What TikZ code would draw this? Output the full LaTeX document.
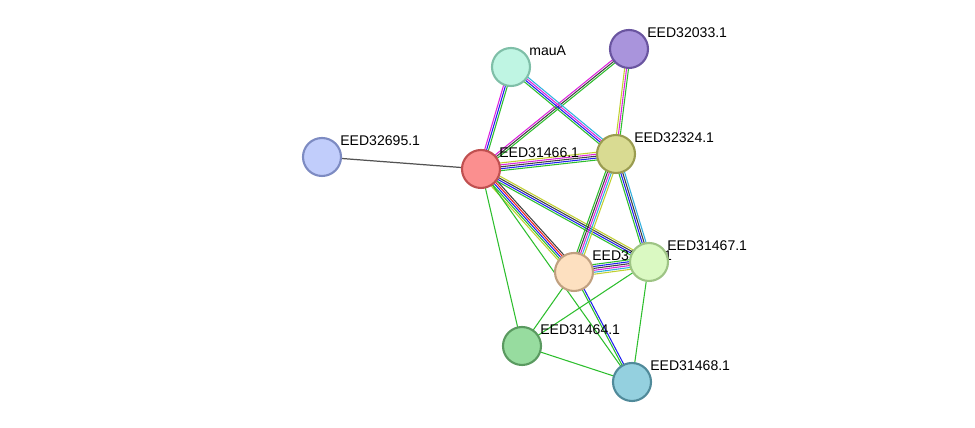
\documentclass[tikz,border=0pt]{standalone}
\usepackage{fontspec}
\setmainfont{Liberation Sans}
\usetikzlibrary{calc}

% STRING-like colours
\definecolor{cnb}{HTML}{2DBE2D}
\definecolor{cfu}{HTML}{F02020}
\definecolor{cco}{HTML}{2020F0}
\definecolor{cex}{HTML}{404040}
\definecolor{cxp}{HTML}{DD22DD}
\definecolor{cdb}{HTML}{30B0E0}
\definecolor{ctm}{HTML}{C0D030}
% node fills / borders
\definecolor{f95}{HTML}{C1CDFB}\definecolor{d95}{HTML}{7D8BC2}
\definecolor{fA}{HTML}{BFF5E3}\definecolor{dA}{HTML}{7FBFA8}
\definecolor{f33}{HTML}{A994DC}\definecolor{d33}{HTML}{6A55A0}
\definecolor{f66}{HTML}{FB8F8F}\definecolor{d66}{HTML}{C05050}
\definecolor{f24}{HTML}{D9DB92}\definecolor{d24}{HTML}{9A9C50}
\definecolor{f65}{HTML}{FDE0C0}\definecolor{d65}{HTML}{C0A080}
\definecolor{f67}{HTML}{DAF9C2}\definecolor{d67}{HTML}{9EC485}
\definecolor{f64}{HTML}{97DC9F}\definecolor{d64}{HTML}{5A9A60}
\definecolor{f68}{HTML}{94D0DF}\definecolor{d68}{HTML}{508A9A}

\tikzset{
  prot/.style={circle, minimum size=0.76cm, line width=1.2pt, fill=f#1, draw=d#1},
  lbl/.style={font=\fontsize{8}{9}\selectfont, inner sep=0pt, anchor=south west, xshift=0.36cm, yshift=0.22cm},
}

% multi-coloured edge: \medge{a}{b}{colour list}
\newcommand{\medge}[3]{%
  \foreach \c [count=\i] in {#3} {\xdef\nedges{\i}}%
  \foreach \c [count=\i] in {#3} {%
    \pgfmathsetmacro{\off}{(\i-(\nedges+1)/2)*1.1}%
    \draw[\c, line width=0.6pt] ($(#1)!\off pt!90:(#2)$) -- ($(#2)!-\off pt!90:(#1)$);
  }%
}

\begin{document}
\begin{tikzpicture}[x=0.02cm, y=-0.02cm]
\useasboundingbox (0,0) rectangle (975,428);

% node positions
\coordinate (pA) at (511,67);
\coordinate (p33) at (629,49);
\coordinate (p95) at (322,157);
\coordinate (p66) at (481,169);
\coordinate (p24) at (616,154);
\coordinate (p67) at (649,262);
\coordinate (p65) at (574,272);
\coordinate (p64) at (522,346);
\coordinate (p68) at (632,382);

% edges
\draw[cex!90, line width=0.7pt] (p66) -- (p95);
\medge{p66}{pA}{cnb,cco,cxp}
\medge{p66}{p33}{cnb,cex,cxp}
\medge{p66}{p24}{cnb,cco,cex,cxp,ctm}
\medge{p66}{p65}{ctm,cnb,cco,cfu,cex}
\medge{p66}{p67}{cnb,cco,cex,ctm}
\medge{p66}{p64}{cnb}
\medge{p66}{p68}{cnb}
\medge{pA}{p24}{cnb,cco,cxp,cdb}
\medge{p33}{p24}{ctm,cxp,cnb}
\medge{p24}{p65}{cnb,cex,cxp,cdb,ctm}
\medge{p24}{p67}{cnb,cco,cex,cdb}
\medge{p65}{p67}{ctm,cdb,cxp,cex,cco,cnb}
\medge{p65}{p64}{cnb}
\medge{p65}{p68}{cnb,cco}
\medge{p67}{p64}{cnb}
\medge{p67}{p68}{cnb}
\medge{p64}{p68}{cnb}

% proteins
\node[prot=95] (n95) at (p95) {};
\node[lbl] (l95) at (p95) {EED32695.1};
\node[prot=A] (nA) at (pA) {};
\node[lbl] (lA) at (pA) {mauA};
\node[prot=33] (n33) at (p33) {};
\node[lbl] (l33) at (p33) {EED32033.1};
\node[prot=66] (n66) at (p66) {};
\node[lbl] (l66) at (p66) {EED31466.1};
\node[prot=24] (n24) at (p24) {};
\node[lbl] (l24) at (p24) {EED32324.1};
\node[prot=65] (n65) at (p65) {};
\node[lbl] (l65) at (p65) {EED31465.1};
\node[prot=67] (n67) at (p67) {};
\node[lbl] (l67) at (p67) {EED31467.1};
\node[prot=64] (n64) at (p64) {};
\node[lbl] (l64) at (p64) {EED31464.1};
\node[prot=68] (n68) at (p68) {};
\node[lbl] (l68) at (p68) {EED31468.1};
\end{tikzpicture}
\end{document}
